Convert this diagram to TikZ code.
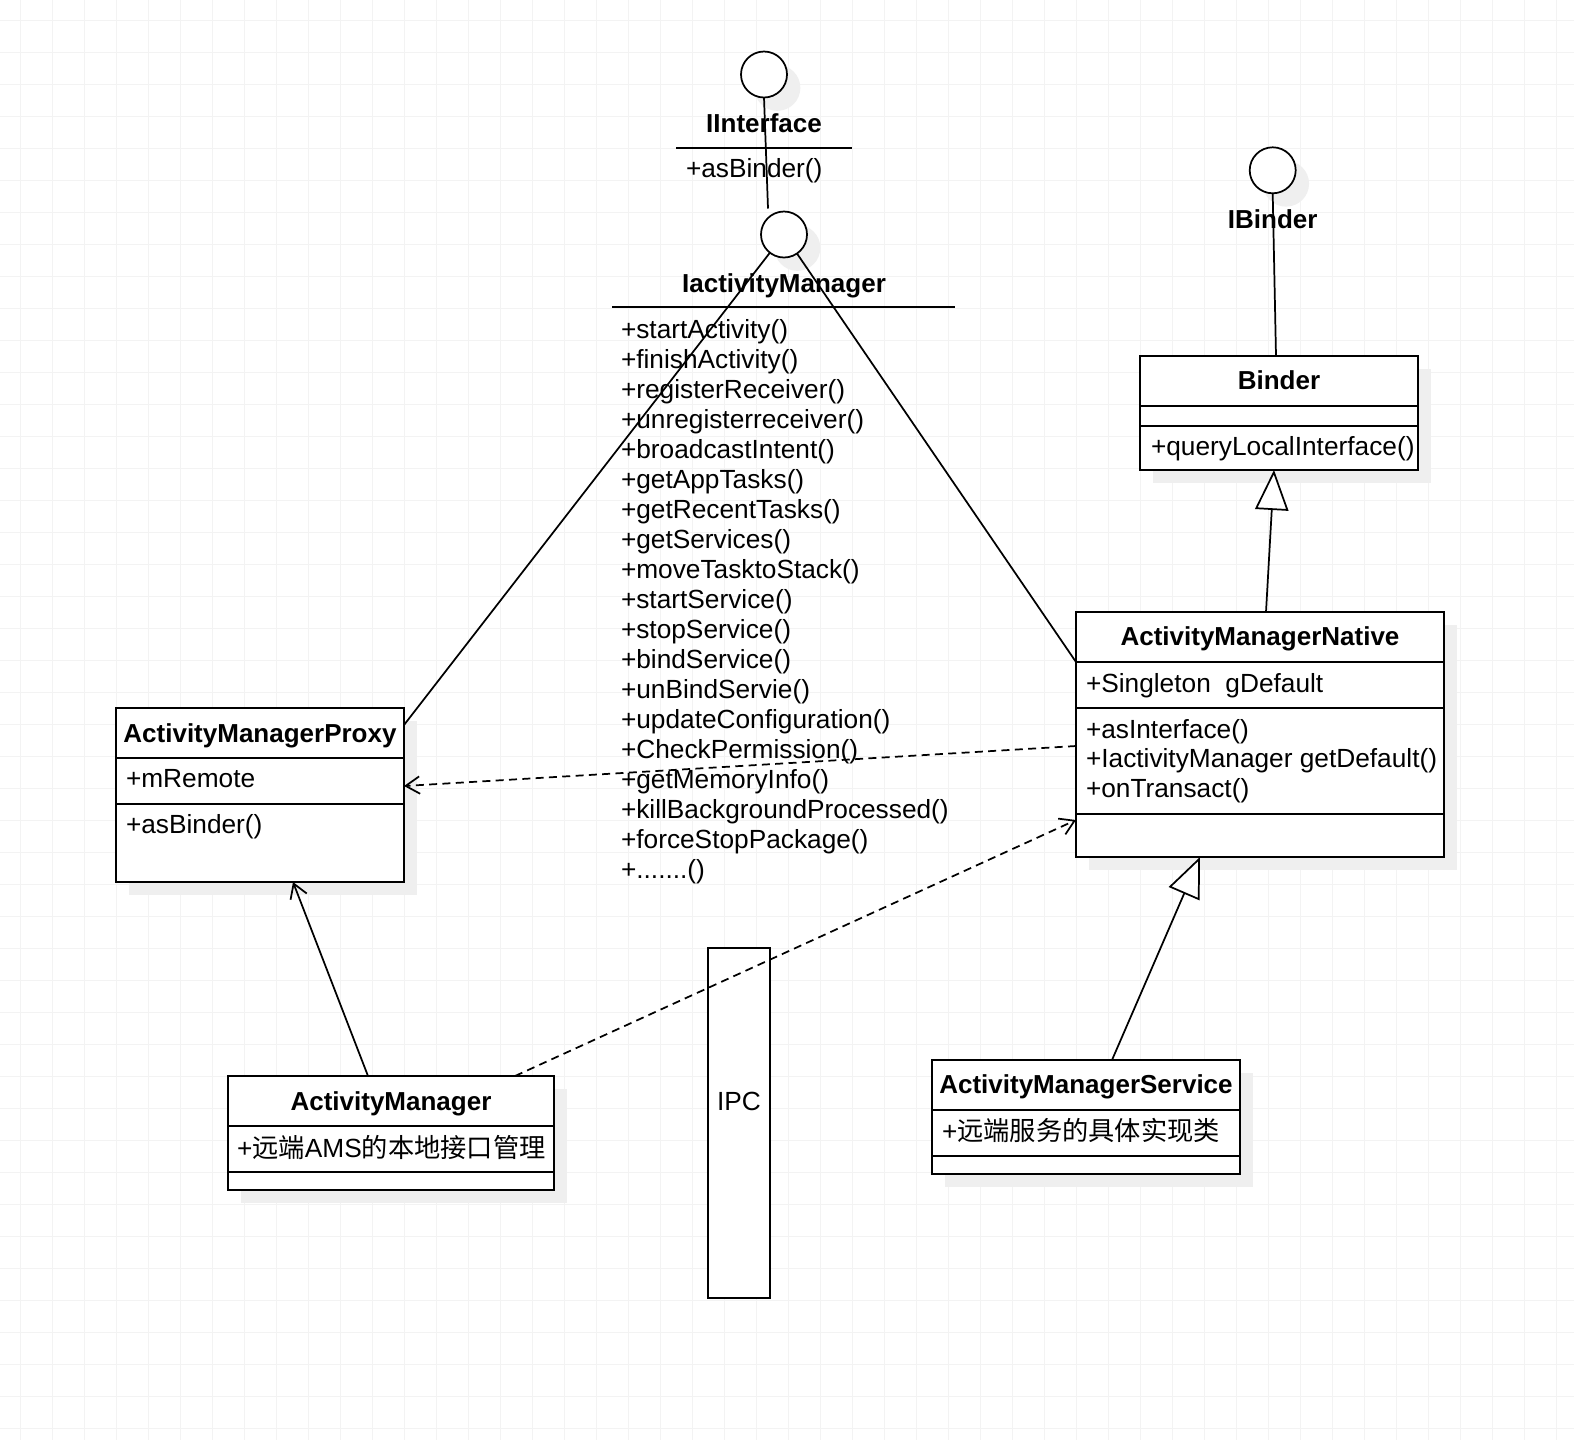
\documentclass[tikz,border=0pt]{standalone}
\usepackage{fontspec}
\setmainfont{Liberation Sans}
\newfontfamily\cjk{Noto Sans CJK SC}
\usetikzlibrary{arrows.meta,calc,shadows}
\definecolor{gridc}{RGB}{243,243,243}
\definecolor{shadec}{RGB}{239,239,239}
\begin{document}
\begin{tikzpicture}[x=0.75pt,y=-0.75pt,
  txt/.style={inner sep=0pt, outer sep=0pt, font=\fontsize{19.7}{23}\selectfont},
  ttl/.style={inner sep=0pt, outer sep=0pt, font=\fontsize{19.5}{23}\selectfont\bfseries},
  shd/.style={drop shadow={shadow xshift=10pt, shadow yshift=-10pt, fill=shadec, opacity=1}},
  box/.style={draw, line width=1.5pt, fill=white, inner sep=0pt, outer sep=0pt, anchor=north west},
  iface/.style={circle, draw, line width=1.3pt, fill=white, minimum size=34.5pt, inner sep=0pt, outer sep=0pt, shd},
  sepl/.style={line width=1.4pt},
  conn/.style={line width=1.3pt},
  dep/.style={conn, dash pattern=on 6pt off 4pt},
  openarr/.style={-{Straight Barb[length=10.5pt,width=13pt,line width=1.3pt]}},
  inh/.style={-{Triangle[length=30pt,width=25pt,fill=white,line width=1.3pt]}}
]
% background and grid
\fill[white] (0,0) rectangle (1574,1440);
\useasboundingbox (0,0) rectangle (1574,1440);
\foreach \i in {0,...,48} \draw[gridc, line width=0.75pt] ({20+32*\i},0) -- ({20+32*\i},1440);
\foreach \i in {0,...,44} \draw[gridc, line width=0.75pt] (0,{20+32*\i}) -- (1574,{20+32*\i});

% interface lollipops
\node[iface] (ii) at (764,74.5) {};
\node[iface] (iam) at (784,234.5) {};
\node[iface] (ib) at (1272.7,170.3) {};

% class boxes
\node[box, shd, minimum width=216pt, minimum height=130.5pt] (proxy) at (116,708) {};
\node[box, shd, minimum width=276pt, minimum height=183.75pt] (native) at (1076,612) {};
\node[box, shd, minimum width=208.5pt, minimum height=85.5pt] (binder) at (1140,356) {};
\node[box, shd, minimum width=244.5pt, minimum height=85.5pt] (am) at (228,1076) {};
\node[box, shd, minimum width=231pt, minimum height=85.5pt] (ams) at (932,1060) {};
\node[box, minimum width=46.5pt, minimum height=262.5pt] (ipc) at (708,948) {};

% compartment separators
\draw[sepl] (612,307) -- (955,307);
\draw[sepl] (676,147.7) -- (852,147.7);
\draw[sepl] (116,758) -- (404,758);
\draw[sepl] (116,804) -- (404,804);
\draw[sepl] (1076,662) -- (1444,662);
\draw[sepl] (1076,708) -- (1444,708);
\draw[sepl] (1076,814) -- (1444,814);
\draw[sepl] (1140,406) -- (1418,406);
\draw[sepl] (1140,426) -- (1418,426);
\draw[sepl] (228,1126) -- (554,1126);
\draw[sepl] (228,1172) -- (554,1172);
\draw[sepl] (932,1110) -- (1240,1110);
\draw[sepl] (932,1156) -- (1240,1156);

% texts
\node[ttl, anchor=base] (tii) at (764,132) {IInterface};
\node[txt, anchor=base west] (tiim) at (686,177) {+asBinder()};
\node[ttl, anchor=base] (tiam) at (784,292) {IactivityManager};
\foreach \m [count=\i from 0] in {startActivity(),finishActivity(),registerReceiver(),unregisterreceiver(),broadcastIntent(),getAppTasks(),getRecentTasks(),getServices(),moveTasktoStack(),startService(),stopService(),bindService(),unBindServie(),updateConfiguration(),CheckPermission(),getMemoryInfo(),killBackgroundProcessed(),forceStopPackage()}
  \node[txt, anchor=base west] (m\i) at (621,{338+30.05*\i}) {+\m};
\node[txt, anchor=base west] (m18) at (621,{338+30.05*18}) {+.......()};
\node[ttl, anchor=base] (tib) at (1272.7,228) {IBinder};
\node[ttl, anchor=base] (tbinder) at (1279,389) {Binder};
\node[txt, anchor=base west] (tbm) at (1151,455) {+queryLocalInterface()};
\node[ttl, anchor=base] (tproxy) at (260,742) {ActivityManagerProxy};
\node[txt, anchor=base west] (tpa) at (126,787) {+mRemote};
\node[txt, anchor=base west] (tpm) at (126,833) {+asBinder()};
\node[ttl, anchor=base] (tnative) at (1260,645) {ActivityManagerNative};
\node[txt, anchor=base west] (tna) at (1086,692) {+Singleton~~gDefault};
\node[txt, anchor=base west] (tnm1) at (1086,738) {+asInterface()};
\node[txt, anchor=base west] (tnm2) at (1086,767.5) {+IactivityManager getDefault()};
\node[txt, anchor=base west] (tnm3) at (1086,797) {+onTransact()};
\node[ttl, anchor=base] (tam) at (391,1110) {ActivityManager};
\node[txt, anchor=base west] (tama) at (237,1157) {+{\cjk 远端}AMS{\cjk 的本地接口管理}};
\node[ttl, anchor=base] (tams) at (1086,1093) {ActivityManagerService};
\node[txt, anchor=base west] (tamsa) at (942,1140) {+{\cjk 远端服务的具体实现类}};
\node[txt, anchor=base] (tipc) at (739,1110) {IPC};

% connectors
\draw[conn] (ii.south) -- ($(iam.north)+(-16,-3)$);
\draw[conn] (iam) -- ($(proxy.north east)+(0,17)$);
\draw[conn] (iam) -- ($(native.north west)+(0,50)$);
\draw[conn] (ib.south) -- ($(binder.north)+(-3,0)$);
\draw[conn, inh] ($(native.north)+(6,0)$) -- ($(binder.south)+(-5,0)$);
\draw[dep, openarr] ($(native.west)+(0,11.5)$) -- ($(proxy.east)+(0,-9)$);
\draw[conn, openarr] ($(am.north)+(-23,0)$) -- ($(proxy.south)+(33,0)$);
\draw[dep, openarr] ($(am.north)+(124,0)$) -- ($(native.south west)+(0,-37)$);
\draw[conn, inh] ($(ams.north)+(26,0)$) -- ($(native.south)+(-60,0)$);
\end{tikzpicture}
\end{document}
